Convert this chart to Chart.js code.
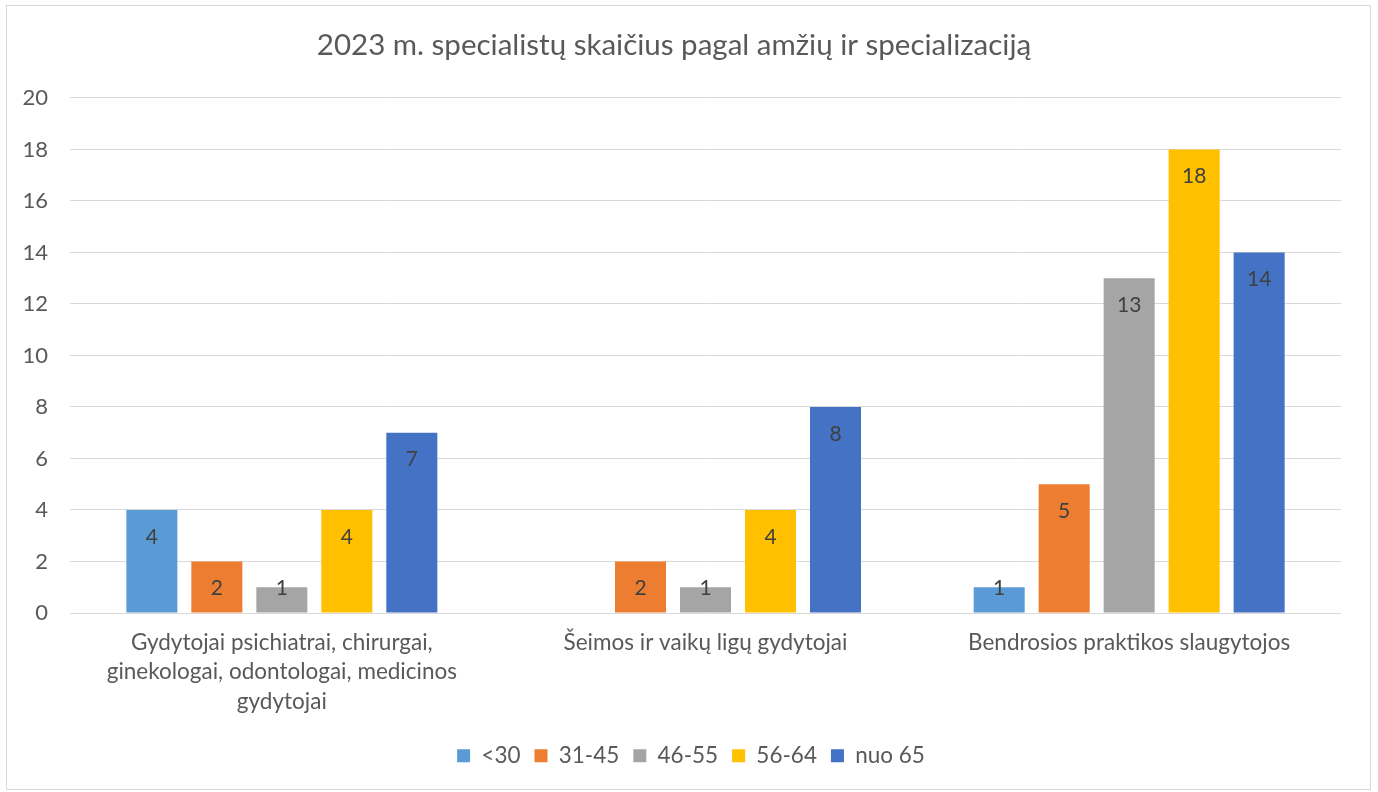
<!DOCTYPE html>
<html>
<head>
<meta charset="utf-8">
<title>2023 m. specialistų skaičius</title>
<script src="https://cdn.jsdelivr.net/npm/chart.js"></script>
<style>
  html, body { margin: 0; padding: 0; background: #ffffff; }
  #wrap {
    position: absolute;
    left: 6px; top: 5px;
    width: 1365px; height: 785px;
    border: 1px solid #d9d9d9;
    box-sizing: border-box;
  }
</style>
</head>
<body>
<div id="wrap"><canvas id="ageChart"></canvas></div>
<script>
// Categories (specializations)
const categories = [
  ['Gydytojai psichiatrai, chirurgai,', 'ginekologai, odontologai, medicinos', 'gydytojai'],
  'Šeimos ir vaikų ligų gydytojai',
  'Bendrosios praktikos slaugytojos'
];

// Age groups and their values per category
const ageGroups = ['<30', '31-45', '46-55', '56-64', 'nuo 65'];
const under30 = [4, null, 1];
const age31to45 = [2, 2, 5];
const age46to55 = [1, 1, 13];
const age56to64 = [4, 4, 18];
const from65 = [7, 8, 14];

const yTicks = { min: 0, max: 20, step: 2 };

const colors = ['#5B9BD5', '#ED7D31', '#A5A5A5', '#FFC000', '#4472C4'];
const FONT = 'Lato, "Open Sans", sans-serif';
const TEXT = '#595959';

// Simple "inside end" value labels, like the spreadsheet version
const valueLabels = {
  id: 'valueLabels',
  afterLayout(chart) {
    // nudge the legend row a bit to the right, it sits centred on the whole frame
    if (chart.legend) {
      chart.legend.left += 17;
      chart.legend.right += 17;
    }
  },
  afterDatasetsDraw(chart) {
    const ctx = chart.ctx;
    ctx.save();
    ctx.font = '21px ' + FONT;
    ctx.fillStyle = '#404040';
    ctx.textAlign = 'center';
    ctx.textBaseline = 'middle';
    chart.data.datasets.forEach((ds, i) => {
      const meta = chart.getDatasetMeta(i);
      meta.data.forEach((bar, j) => {
        const v = ds.data[j];
        if (v === null || v === undefined) return;
        const y = Math.min(bar.y + 27, bar.base - 24);
        ctx.fillText(String(v), bar.x, y);
      });
    });
    ctx.restore();
  }
};

const seriesValues = [under30, age31to45, age46to55, age56to64, from65];

const ctx = document.getElementById('ageChart').getContext('2d');
new Chart(ctx, {
  type: 'bar',
  data: {
    labels: categories,
    datasets: ageGroups.map((name, i) => ({
      label: name,
      data: seriesValues[i],
      backgroundColor: colors[i],
      borderWidth: 0,
      categoryPercentage: 0.767,
      barPercentage: 0.785
    }))
  },
  plugins: [valueLabels],
  options: {
    responsive: true,
    maintainAspectRatio: false,
    animation: false,
    layout: { padding: { left: 0, right: 29, top: 0, bottom: 12 } },
    plugins: {
      title: {
        display: true,
        text: '2023 m. specialistų skaičius pagal amžių ir specializaciją',
        color: TEXT,
        font: { family: FONT, size: 29.5, weight: 'normal' },
        padding: { top: 22, bottom: 34.5 }
      },
      legend: {
        position: 'bottom',
        labels: {
          color: TEXT,
          font: { family: FONT, size: 22.5 },
          boxWidth: 13,
          boxHeight: 13,
          padding: 14
        }
      },
      tooltip: { enabled: false }
    },
    scales: {
      x: {
        grid: { display: false },
        border: { display: false },
        ticks: {
          color: TEXT,
          font: { family: FONT, size: 22.5, lineHeight: 1.31 },
          padding: 7,
          maxRotation: 0,
          autoSkip: false
        },
        afterFit(scale) { scale.height = 117.5; }
      },
      y: {
        min: yTicks.min,
        max: yTicks.max,
        grid: { color: '#d9d9d9', lineWidth: 1, drawTicks: false },
        border: { display: false },
        ticks: {
          stepSize: yTicks.step,
          color: TEXT,
          font: { family: FONT, size: 22 },
          padding: 22
        },
        afterFit(scale) { scale.width = 63; }
      }
    }
  }
});
</script>
</body>
</html>
